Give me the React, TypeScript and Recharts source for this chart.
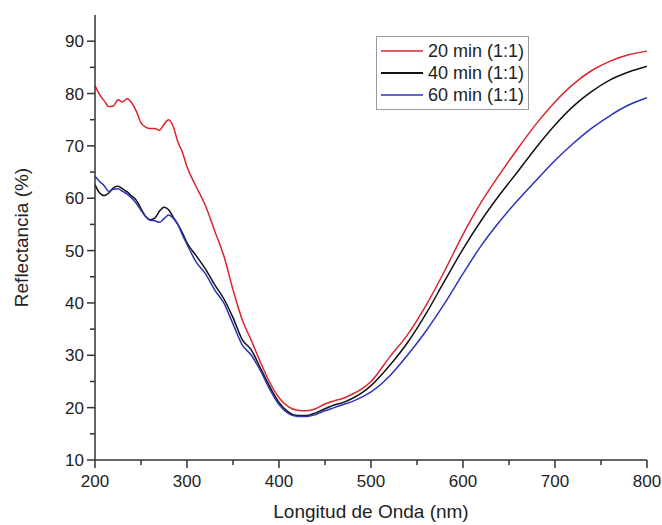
import React from 'react';
import { LineChart, Line, XAxis, YAxis, Legend } from 'recharts';

const wavelength = [
  200, 205, 210, 215, 220, 225, 230, 235, 240, 245, 250, 255, 260, 265, 270, 275, 280, 285, 290, 295,
  300, 310, 320, 330, 340, 350, 360, 370, 380, 390, 400, 410, 420, 430, 440, 450, 460, 470, 480, 490,
  500, 520, 540, 560, 580, 600, 620, 640, 660, 680, 700, 720, 740, 760, 780, 800,
];

const min20 = [
  81.5, 79.8, 78.6, 77.5, 77.6, 78.8, 78.4, 79.0, 78.2, 76.6, 74.4, 73.6, 73.3, 73.3, 73.0, 74.1, 75.0, 73.7, 70.8, 68.8,
  66.0, 62.2, 58.6, 53.8, 49.0, 42.5, 36.8, 32.8, 28.6, 24.8, 21.9, 20.2, 19.5, 19.4, 19.8, 20.7, 21.3, 21.8, 22.6, 23.6,
  25.0, 29.6, 34.0, 39.6, 46.1, 53.1, 59.3, 64.6, 69.6, 74.3, 78.4, 81.8, 84.4, 86.2, 87.4, 88.1,
];

const min40 = [
  62.6, 61.0, 60.5, 61.0, 62.0, 62.3, 61.8, 61.2, 60.4, 59.6, 58.0, 56.5, 55.9, 56.2, 57.5, 58.3, 57.8, 56.4, 55.0, 53.4,
  51.5, 49.0, 46.5, 43.5, 40.8, 37.2, 33.0, 31.0, 27.5, 24.0, 21.0, 19.2, 18.5, 18.5, 19.0, 19.8, 20.5, 21.0, 21.8, 22.8,
  24.2, 28.0, 32.5, 38.0, 44.2, 50.3, 55.8, 60.7, 65.2, 69.8, 74.0, 77.6, 80.4, 82.6, 84.1, 85.2,
];

const min60 = [
  64.2, 63.2, 62.4, 61.3, 61.7, 61.8, 61.3, 60.8, 60.0, 59.0, 57.7, 56.5, 55.8, 55.7, 55.4, 56.1, 56.8, 56.2, 55.0, 53.0,
  51.2, 47.8, 45.6, 42.5, 40.0, 36.0, 32.0, 30.0, 27.0, 23.5, 20.6, 18.9, 18.3, 18.3, 18.7, 19.4, 20.0, 20.6, 21.2, 22.0,
  23.0, 26.0, 30.1, 34.7, 39.9, 45.6, 51.0, 55.6, 59.7, 63.5, 67.2, 70.5, 73.4, 75.8, 77.8, 79.2,
];

const xTicks = [200, 250, 300, 350, 400, 450, 500, 550, 600, 650, 700, 750, 800];
const yTicks = [10, 15, 20, 25, 30, 35, 40, 45, 50, 55, 60, 65, 70, 75, 80, 85, 90];

const seriesKeys = ['min20', 'min40', 'min60'];
const seriesNames = ['20 min (1:1)', '40 min (1:1)', '60 min (1:1)'];
const seriesColors = ['#dc242b', '#111111', '#2c33b8'];

const data = wavelength.map((w, i) => ({ w, min20: min20[i], min40: min40[i], min60: min60[i] }));

const FONT = '"Liberation Sans", Arial, sans-serif';
const AXIS = '#333333';

function YTick(props: any) {
  const { x, y, payload } = props;
  const major = payload.value % 10 === 0;
  return (
    <g>
      <line x1={x} x2={x - (major ? 8 : 5)} y1={y} y2={y} stroke={AXIS} strokeWidth={1.5} />
      {major && (
        <text x={x - 11} y={y} dy="0.36em" textAnchor="end" fontSize={17} fontFamily={FONT} fill="#222">
          {payload.value}
        </text>
      )}
    </g>
  );
}

function XTick(props: any) {
  const { x, y, payload } = props;
  const major = payload.value % 100 === 0;
  return (
    <g>
      <line x1={x} x2={x} y1={y} y2={y + (major ? 8 : 5)} stroke={AXIS} strokeWidth={1.5} />
      {major && (
        <text x={x} y={y + 21} dy="0.36em" textAnchor="middle" fontSize={17} fontFamily={FONT} fill="#222">
          {payload.value}
        </text>
      )}
    </g>
  );
}

function LegendBox() {
  return (
    <div
      style={{
        border: '1px solid #999',
        background: '#fff',
        padding: '3px 4px 3px 4px',
        fontFamily: FONT,
        fontSize: 18,
        color: '#222',
        lineHeight: '22px',
      }}
    >
      {seriesNames.map((name, i) => (
        <div key={name} style={{ display: 'flex', alignItems: 'center', whiteSpace: 'nowrap' }}>
          <svg width={42} height={10} style={{ marginRight: 5 }}>
            <line x1={0} x2={42} y1={5} y2={5} stroke={seriesColors[i]} strokeWidth={i === 1 ? 2 : 1.5} />
          </svg>
          <span>{name}</span>
        </div>
      ))}
    </div>
  );
}

export default function App() {
  return (
    <div style={{ position: 'absolute', left: 0, top: 0, width: 662, height: 525, background: '#fff' }}>
      <LineChart width={662} height={525} data={data} margin={{ top: 15, right: 15, bottom: 0, left: 0 }}>
        <XAxis
          dataKey="w"
          type="number"
          domain={[200, 800]}
          ticks={xTicks}
          interval={0}
          height={65}
          tickSize={0}
          tickMargin={0}
          tickLine={false}
          tick={<XTick />}
          axisLine={{ stroke: AXIS, strokeWidth: 1.5 }}
          label={{ value: 'Longitud de Onda (nm)', position: 'insideBottom', offset: 7, fontSize: 19, fontFamily: FONT, fill: '#222' }}
        />
        <XAxis
          xAxisId="top"
          orientation="top"
          dataKey="w"
          type="number"
          domain={[200, 800]}
          height={0}
          tick={false}
          tickLine={false}
          axisLine={{ stroke: AXIS, strokeWidth: 1.5 }}
        />
        <YAxis
          type="number"
          domain={[10, 95]}
          ticks={yTicks}
          interval={0}
          width={95}
          tickSize={0}
          tickMargin={0}
          tickLine={false}
          tick={<YTick />}
          axisLine={{ stroke: AXIS, strokeWidth: 1.5 }}
          label={{ value: 'Reflectancia (%)', angle: -90, position: 'insideLeft', offset: 21, fontSize: 19, fontFamily: FONT, fill: '#222', style: { textAnchor: 'middle' } }}
        />
        <YAxis
          yAxisId="right"
          orientation="right"
          type="number"
          domain={[10, 95]}
          width={0}
          tick={false}
          tickLine={false}
          axisLine={{ stroke: AXIS, strokeWidth: 1.5 }}
        />
        <Legend
          layout="vertical"
          align="center"
          verticalAlign="middle"
          content={() => <LegendBox />}
          wrapperStyle={{ position: 'absolute', left: 376, top: 36, width: 'auto', height: 'auto' }}
        />
        {seriesKeys.map((key, i) => (
          <Line
            key={key}
            dataKey={key}
            name={seriesNames[i]}
            type="monotone"
            stroke={seriesColors[i]}
            strokeWidth={1.5}
            dot={false}
            activeDot={false}
            isAnimationActive={false}
          />
        ))}
      </LineChart>
    </div>
  );
}
